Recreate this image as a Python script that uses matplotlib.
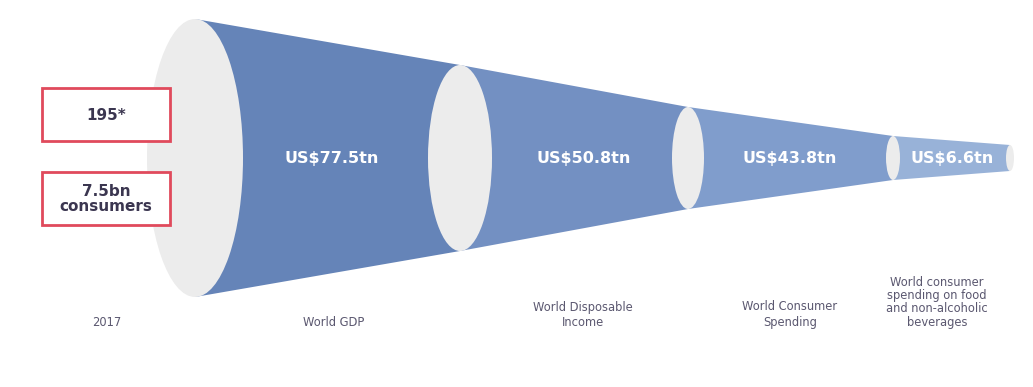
import matplotlib
matplotlib.use("Agg")
import matplotlib.pyplot as plt
from matplotlib.patches import Ellipse, Polygon, Rectangle

# Funnel stages
stage_values = ["US$77.5tn", "US$50.8tn", "US$43.8tn", "US$6.6tn"]
stage_labels = [
    "World GDP",
    "World Disposable\nIncome",
    "World Consumer\nSpending",
    "World consumer\nspending on food\nand non-alcoholic\nbeverages",
]
year_label = "2017"
box_texts = ["195*", "7.5bn\nconsumers"]

# Ring geometry (pixel space): centre x, half-width, half-height
ring_x = [195, 460, 688, 893, 1010]
ring_w = [48, 32, 16, 7, 4]
ring_h = [139, 93, 51, 22, 13]
center_y = 158
band_colors = ["#6584b8", "#7390c2", "#809dcc", "#98b2d8"]
ring_color = "#ececec"
text_color = "#5b5870"

fig = plt.figure(figsize=(10.33, 3.87), dpi=100)
ax = fig.add_axes([0, 0, 1, 1])
ax.set_xlim(0, 1033)
ax.set_ylim(387, 0)
ax.axis("off")

# Cone sections between consecutive rings
for i in range(len(stage_values)):
    x0, x1 = ring_x[i], ring_x[i + 1]
    h0, h1 = ring_h[i], ring_h[i + 1]
    poly = Polygon([(x0, center_y - h0), (x1, center_y - h1),
                    (x1, center_y + h1), (x0, center_y + h0)],
                   closed=True, facecolor=band_colors[i], edgecolor="none", zorder=1)
    ax.add_patch(poly)

# Rings
for x, w, h in zip(ring_x, ring_w, ring_h):
    ax.add_patch(Ellipse((x, center_y), 2 * w, 2 * h, facecolor=ring_color,
                         edgecolor="none", zorder=2))

# Values inside the cone
value_x = [332, 584, 790, 952]
for x, txt in zip(value_x, stage_values):
    ax.text(x, center_y + 1, txt, color="white", fontsize=11.5, fontweight="bold",
            ha="center", va="center", family="DejaVu Sans", zorder=4)

# Stage captions below, last lines sharing one baseline
label_x = [334, 583, 790, 937]
label_spacing = [1.0, 1.25, 1.25, 1.05]
for x, ls, txt in zip(label_x, label_spacing, stage_labels):
    ax.text(x, 329, txt, color=text_color, fontsize=8.3, ha="center",
            va="bottom", multialignment="center", linespacing=ls,
            family="DejaVu Sans", zorder=4)
ax.text(107, 329, year_label, color=text_color, fontsize=8.3, ha="center",
        va="bottom", family="DejaVu Sans", zorder=4)

# Highlight boxes on the left
box_y = [88, 172]
for y, txt in zip(box_y, box_texts):
    ax.add_patch(Rectangle((42, y), 128, 53, facecolor="white",
                           edgecolor="#e04a5c", linewidth=2, zorder=5))
    ax.text(106, y + 27, txt, color="#3b3650", fontsize=11, fontweight="bold",
            ha="center", va="center", linespacing=0.95, family="DejaVu Sans",
            zorder=6)

fig.savefig("out.png", dpi=100, facecolor="white")
